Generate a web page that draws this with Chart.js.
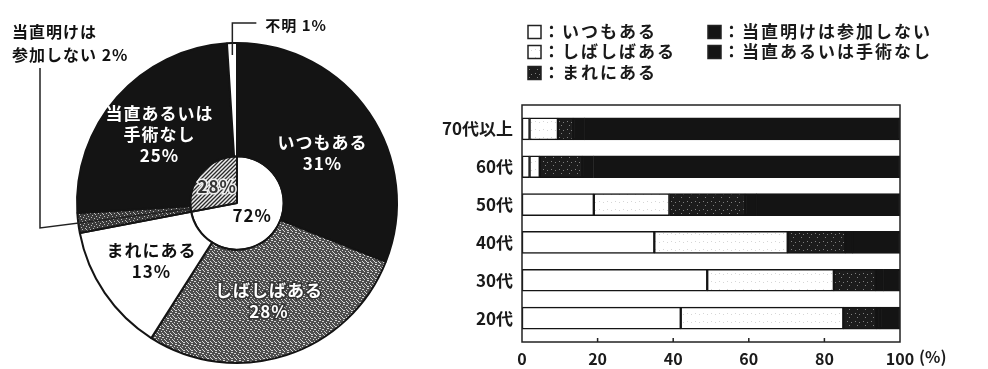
<!DOCTYPE html>
<html lang="ja">
<head>
<meta charset="utf-8">
<script src="https://cdn.jsdelivr.net/npm/chart.js@4.4.1/dist/chart.umd.min.js"></script>
<style>
  html, body { margin: 0; padding: 0; background: #fff; }
  body { width: 988px; height: 369px; position: relative; overflow: hidden; }
  #caixaPizza { position: absolute; left: 0; top: 0; width: 474px; height: 369px; }
  #caixaBarras { position: absolute; left: 430px; top: 0; width: 558px; height: 369px; }
</style>
</head>
<body>
<div id="caixaPizza"><canvas id="graficoPizza"></canvas></div>
<div id="caixaBarras"><canvas id="graficoBarras"></canvas></div>
<script>

// 円グラフ（全体）
const pieNames = ['いつもある', 'しばしばある', 'まれにある', '当直明けは参加しない', '当直あるいは手術なし', '不明'];
const pieLines = [['いつもある'], ['しばしばある'], ['まれにある'], ['当直明けは', '参加しない'], ['当直あるいは', '手術なし'], ['不明']];
const pieValues = [31, 28, 13, 2, 25, 1];
const holeValues = [72, 28];

// 年代別の帯グラフ
const ageGroups = ['70代以上', '60代', '50代', '40代', '30代', '20代'];
const seriesNames = ['いつもある', 'しばしばある', 'まれにある', '当直明けは参加しない', '当直あるいは手術なし'];
const itsumo = [2, 2, 19, 35, 49, 42];
const shibashiba = [7.5, 2.7, 20, 35.3, 33.5, 43];
const mareni = [4, 11.2, 20, 15.2, 11.1, 8.7];
const akeFusanka = [3, 3, 3, 2, 2, 1];
const toutyokuNashi = [83.5, 81.1, 38, 12.5, 4.4, 5.3];
const seriesValues = [itsumo, shibashiba, mareni, akeFusanka, toutyokuNashi];
const xTicks = [0, 20, 40, 60, 80, 100];

const FONTE = '"Noto Sans CJK JP", "Noto Sans", sans-serif';
const PRETO = '#141414';

function textura(fundo, ponto, pontos){
    const c = document.createElement('canvas');
    c.width = 8; c.height = 8;
    const g = c.getContext('2d');
    g.fillStyle = fundo;
    g.fillRect(0, 0, 8, 8);
    g.fillStyle = ponto;
    pontos.forEach(p => g.fillRect(p[0], p[1], 1, 1));
    return g.createPattern(c, 'repeat');
}

function hachura(){
    const c = document.createElement('canvas');
    c.width = 4; c.height = 4;
    const g = c.getContext('2d');
    g.fillStyle = '#eeeeee';
    g.fillRect(0, 0, 4, 4);
    g.strokeStyle = '#2a2a2a';
    g.lineWidth = 1.3;
    g.beginPath();
    g.moveTo(-1, 5); g.lineTo(5, -1);
    g.moveTo(-1, 1); g.lineTo(1, -1);
    g.moveTo(3, 5); g.lineTo(5, 3);
    g.stroke();
    return g.createPattern(c, 'repeat');
}

const pontosA = [[0,0],[3,1],[6,2],[1,3],[5,4],[2,5],[7,6],[4,7],[6,5],[2,1],[4,3],[0,6],[7,0],[3,6]];
const pontosB = [[1,1],[5,2],[3,5],[6,6],[0,4]];

const cinzaPizza = textura('#4e4e4e', '#d8d8d8', pontosA);
const escuroFaixa = textura('#3a3a3a', '#bdbdbd', pontosA.slice(0, 9));
const escuroBarra = textura('#1c1c1c', '#808080', pontosB.slice(0, 3));
const claroBarra = textura('#ffffff', '#d6d6d6', pontosB.slice(0, 2));
const riscado = hachura();

// textos do circulo
const textoPizza = {
    id: 'textoPizza',
    afterDatasetsDraw(chart){
        const ctx = chart.ctx;
        const fora = chart.getDatasetMeta(0).data;
        const dentro = chart.getDatasetMeta(1).data;
        const cor = ['#fff', '#fff', '#111', null, '#fff', null];

        ctx.save();
        ctx.textAlign = 'center';
        ctx.textBaseline = 'middle';
        ctx.letterSpacing = '1px';
        ctx.font = 'bold 17px ' + FONTE;

        fora.forEach((arco, i) => {
            if(!cor[i]) return;
            const p = arco.tooltipPosition();
            const linhas = pieLines[i].concat([pieValues[i] + '%']);
            const y0 = p.y - (linhas.length - 1) * 21 / 2 + (i === 0 ? 8 : 0);
            linhas.forEach((t, k) => {
                if(i === 1){
                    ctx.lineWidth = 3;
                    ctx.strokeStyle = '#333';
                    ctx.strokeText(t, p.x, y0 + k * 21);
                }
                ctx.fillStyle = cor[i];
                ctx.fillText(t, p.x, y0 + k * 21);
            });
        });

        // 72% / 28% no furo
        dentro.forEach((arco, i) => {
            const a = (arco.startAngle + arco.endAngle) / 2;
            const r = arco.outerRadius * (i === 0 ? 0.42 : 0.55);
            const x = arco.x + Math.cos(a) * r;
            const y = arco.y + Math.sin(a) * r;
            const t = holeValues[i] + '%';
            if(i === 1){
                ctx.lineWidth = 3;
                ctx.strokeStyle = '#eeeeee';
                ctx.strokeText(t, x, y);
                ctx.fillStyle = '#333';
            } else {
                ctx.fillStyle = '#111';
            }
            ctx.fillText(t, x, y);
        });

        ctx.strokeStyle = '#222';
        ctx.lineWidth = 1.5;
        ctx.fillStyle = '#111';
        ctx.textAlign = 'left';

        // 不明 1%
        const fm = fora[5];
        const am = (fm.startAngle + fm.endAngle) / 2;
        const x1 = fm.x + Math.cos(am) * (fm.outerRadius - 12);
        const y1 = fm.y + Math.sin(am) * (fm.outerRadius - 12);
        const yTopo = fm.y - fm.outerRadius - 20;
        ctx.beginPath();
        ctx.moveTo(x1, y1);
        ctx.lineTo(x1, yTopo);
        ctx.lineTo(x1 + 24, yTopo);
        ctx.stroke();
        ctx.font = 'bold 15px ' + FONTE;
        ctx.fillText(pieLines[5][0] + ' ' + pieValues[5] + '%', x1 + 33, yTopo + 2);

        // 当直明けは参加しない 2%
        const fa = fora[3];
        const aa = (fa.startAngle + fa.endAngle) / 2;
        const xFim = 40;
        const rFim = (fa.x - xFim) / Math.abs(Math.cos(aa));
        const yFim = fa.y + Math.sin(aa) * rFim;
        ctx.beginPath();
        ctx.moveTo(fa.x + Math.cos(aa) * fa.innerRadius, fa.y + Math.sin(aa) * fa.innerRadius);
        ctx.lineTo(xFim, yFim);
        ctx.lineTo(xFim, 68);
        ctx.stroke();
        ctx.font = 'bold 16px ' + FONTE;
        ctx.fillText(pieLines[3][0], 12, 32);
        ctx.fillText(pieLines[3][1] + ' ' + pieValues[3] + '%', 12, 55);

        ctx.restore();
    }
};

new Chart(document.getElementById('graficoPizza'), {
    type: 'doughnut',
    data: {
        labels: pieNames,
        datasets: [{
            data: pieValues,
            backgroundColor: [PRETO, cinzaPizza, '#ffffff', escuroFaixa, PRETO, '#ffffff'],
            borderColor: PRETO,
            borderWidth: 2,
            weight: 114
        }, {
            data: holeValues,
            backgroundColor: ['#ffffff', riscado],
            borderColor: PRETO,
            borderWidth: 2,
            weight: 47
        }]
    },
    options: {
        responsive: true,
        maintainAspectRatio: false,
        animation: false,
        cutout: 0,
        layout: { padding: { top: 42, bottom: 5, left: 76, right: 76 } },
        plugins: {
            legend: { display: false },
            tooltip: { enabled: false }
        }
    },
    plugins: [textoPizza]
});

const preenchimentos = ['#ffffff', claroBarra, escuroBarra, PRETO, PRETO];

// moldura, marcas do eixo, "(%)" e legenda
const molduraBarras = {
    id: 'molduraBarras',
    afterDraw(chart){
        const ctx = chart.ctx;
        const area = chart.chartArea;
        const x = chart.scales.x;
        ctx.save();
        ctx.strokeStyle = '#222';
        ctx.lineWidth = 1.5;
        ctx.strokeRect(area.left, area.top - 5, area.right - area.left, area.bottom - area.top + 10);

        ctx.beginPath();
        xTicks.slice(1, -1).forEach(v => {
            const px = x.getPixelForValue(v);
            ctx.moveTo(px, area.bottom + 5);
            ctx.lineTo(px, area.bottom + 1);
        });
        ctx.stroke();

        ctx.fillStyle = '#1a1a1a';
        ctx.font = 'bold 16px ' + FONTE;
        ctx.textBaseline = 'top';
        ctx.fillText('(%)', x.getPixelForValue(100) + 19, area.bottom + 12);

        // legenda em duas colunas
        ctx.font = 'bold 17px ' + FONTE;
        ctx.letterSpacing = '2px';
        ctx.textBaseline = 'middle';
        seriesNames.forEach((nome, i) => {
            const col = i < 3 ? 0 : 1;
            const lin = i < 3 ? i : i - 3;
            const lx = col === 0 ? 98 : 278;
            const ly = [32, 52, 73][lin];
            ctx.fillStyle = preenchimentos[i];
            ctx.fillRect(lx, ly - 6.5, 13, 13);
            ctx.lineWidth = 1.5;
            ctx.strokeRect(lx, ly - 6.5, 13, 13);
            ctx.fillStyle = '#1a1a1a';
            ctx.fillText('：' + nome, lx + 15, ly);
        });
        ctx.restore();
    }
};

new Chart(document.getElementById('graficoBarras'), {
    type: 'bar',
    data: {
        labels: ageGroups,
        datasets: seriesValues.map((valores, i) => ({
            label: seriesNames[i],
            data: valores,
            backgroundColor: preenchimentos[i],
            borderColor: PRETO,
            borderWidth: 1.5,
            borderSkipped: false,
            barThickness: 22
        }))
    },
    options: {
        indexAxis: 'y',
        responsive: true,
        maintainAspectRatio: false,
        animation: false,
        layout: { padding: { top: 110, left: 0, right: 88, bottom: 0 } },
        scales: {
            x: {
                stacked: true,
                min: 0,
                max: 100,
                ticks: {
                    stepSize: 20,
                    padding: 12,
                    maxRotation: 0,
                    color: '#1a1a1a',
                    font: { family: FONTE, size: 16, weight: 'bold' }
                },
                grid: { display: false, drawTicks: false },
                border: { display: false },
                afterFit: s => { s.height = 32; }
            },
            y: {
                stacked: true,
                ticks: {
                    padding: 9,
                    color: '#1a1a1a',
                    font: { family: FONTE, size: 17, weight: 'bold' }
                },
                grid: { display: false, drawTicks: false },
                border: { display: false },
                afterFit: s => { s.width = 92; }
            }
        },
        plugins: {
            legend: { display: false },
            tooltip: { enabled: false }
        }
    },
    plugins: [molduraBarras]
});

</script>
</body>
</html>
